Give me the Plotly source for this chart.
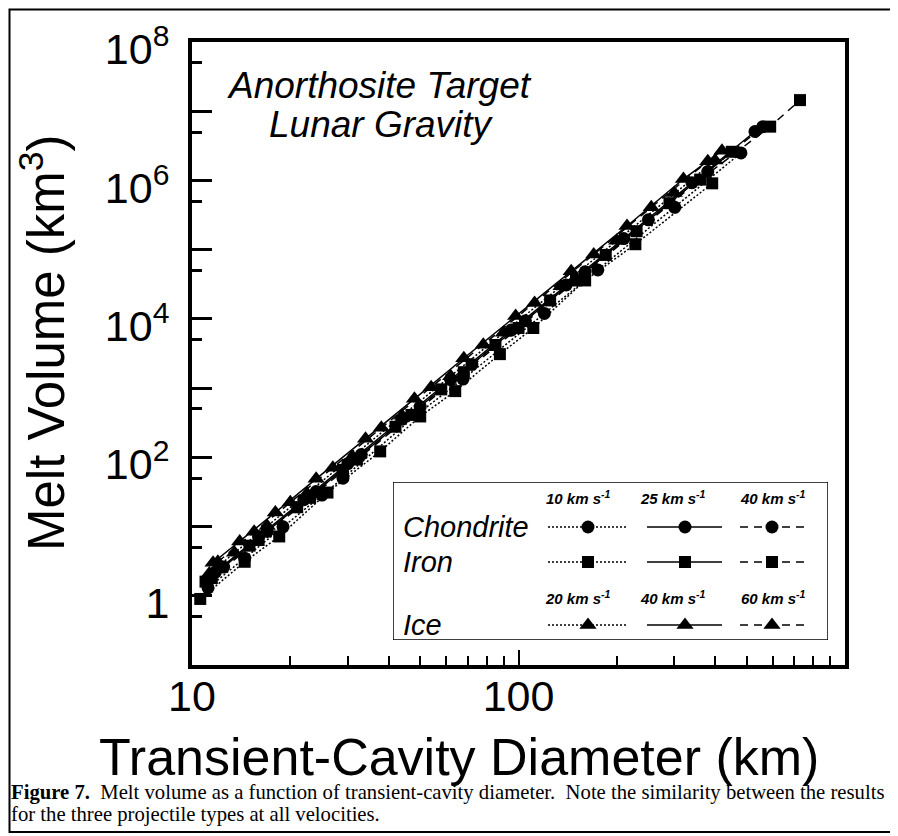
import plotly.graph_objects as go

# ---------------- data ----------------
# Chondrite projectiles (circles)
chon10_d = [11.2, 14.5, 19, 25, 29, 49, 67.6, 120, 175, 301, 480]
chon10_v = [1.3, 3.5, 9.9, 28.5, 50, 420, 1350, 1.2e4, 5.1e4, 4.1e5, 2.5e6]
chon25_d = [11.8, 16, 22, 30, 44, 62, 95, 140, 210, 340, 530]
chon25_v = [2.2, 7.2, 24.5, 81, 355, 1330, 6900, 3.1e4, 1.45e5, 9.3e5, 5.1e6]
chon40_d = [12.5, 17, 24, 33, 50, 72, 105, 160, 250, 380, 560]
chon40_v = [2.6, 8.5, 32, 110, 540, 2200, 9400, 4.8e4, 2.7e5, 1.35e6, 6.0e6]
# Iron projectiles (squares)
iron10_d = [10.6, 14.5, 18.5, 26, 37.7, 50, 64, 87.7, 111, 160, 228, 392]
iron10_v = [0.9, 3.1, 7.2, 31, 122, 390, 906, 3100, 7400, 3.6e4, 1.2e5, 9.1e5]
iron25_d = [11, 15, 21, 29, 42, 58, 85, 125, 185, 290, 450]
iron25_v = [1.6, 5.3, 19, 66, 277, 960, 4200, 1.85e4, 8.4e4, 4.7e5, 2.6e6]
iron40_d = [11.5, 16, 23, 32, 47, 68, 100, 150, 230, 360, 590, 728]
iron40_v = [1.8, 6.4, 26, 93, 410, 1700, 7400, 3.6e4, 1.85e5, 1.03e6, 6.0e6, 1.45e7]
# Ice projectiles (triangles)
ice20_d = [11.3, 13.5, 17, 22.5, 31, 44, 62, 90, 135, 200, 300, 400]
ice20_v = [2.1, 4.2, 10.2, 30, 103, 400, 1480, 6300, 2.97e4, 1.35e5, 6.6e5, 1.95e6]
ice40_d = [11.6, 14, 18, 24, 34, 48, 68, 98, 145, 215, 320, 420]
ice40_v = [3.0, 6.1, 16, 49, 185, 700, 2700, 1.1e4, 4.9e4, 2.2e5, 1.05e6, 2.7e6]
ice60_d = [12, 15.5, 20, 27, 38, 54, 78, 112, 170, 255, 380]
ice60_v = [3.1, 8.4, 22.5, 71, 267, 1030, 4250, 1.7e4, 8.5e4, 4.1e5, 1.9e6]

projectiles = ["Chondrite", "Iron", "Ice"]
vel_labels_ci = ["10 km s<sup>-1</sup>", "25 km s<sup>-1</sup>", "40 km s<sup>-1</sup>"]
vel_labels_ice = ["20 km s<sup>-1</sup>", "40 km s<sup>-1</sup>", "60 km s<sup>-1</sup>"]

x_tickvals = [10, 100, 1000]
x_ticktext = ["10", "100", "100" + "\u00a0" * 4]
y_tickvals = [1, 10, 100, 1e3, 1e4, 1e5, 1e6, 1e7, 1e8]
y_ticktext = ["1", "", "10<sup>2</sup>", "", "10<sup>4</sup>", "", "10<sup>6</sup>", "", "10<sup>8</sup>"]

# ---------------- styles ----------------
FONT = "Liberation Sans, Arial, sans-serif"
SERIF = "Liberation Serif, Times New Roman, serif"
DOT = "2px,2px"
DASH = "8px,6px"
symbols = {"Chondrite": "circle", "Iron": "square", "Ice": "triangle-up"}
msize = {"Chondrite": 13, "Iron": 12, "Ice": 15}
dashes = [DOT, "solid", DASH]

series = [
    ("Chondrite", 0, chon10_d, chon10_v), ("Chondrite", 1, chon25_d, chon25_v), ("Chondrite", 2, chon40_d, chon40_v),
    ("Iron", 0, iron10_d, iron10_v), ("Iron", 1, iron25_d, iron25_v), ("Iron", 2, iron40_d, iron40_v),
    ("Ice", 0, ice20_d, ice20_v), ("Ice", 1, ice40_d, ice40_v), ("Ice", 2, ice60_d, ice60_v),
]

fig = go.Figure()
for proj, k, d, v in series:
    fig.add_trace(go.Scatter(
        x=d, y=v, mode="lines+markers", showlegend=False,
        line=dict(color="black", width=1.5, dash=dashes[k]),
        marker=dict(symbol=symbols[proj], size=msize[proj], color="black"),
        xaxis="x", yaxis="y"))

# ---------------- geometry (reference pixel coords; page body adds an 8px margin) ----------------
OFF = 8
W, H = 898 - OFF, 836 - OFF
L, R, T, B = 192, 845, 42, 665          # plot frame in reference pixels
pw, ph = R - L, B - T
def px(xr):
    return (xr - L) / pw
def py(yr):
    return (B - yr) / ph

# ---------------- custom legend (drawn on an auxiliary pixel-unit axis) ----------------
row_y = {"Chondrite": 527, "Iron": 562, "Ice": 625}
seg = [(548, 628, 588), (647, 722, 685), (740, 810, 772)]
for proj in projectiles:
    for k, (x0, x1, xm) in enumerate(seg):
        fig.add_trace(go.Scatter(
            x=[x0, xm, x1], y=[row_y[proj]] * 3, mode="lines", showlegend=False,
            line=dict(color="black", width=1.5, dash=dashes[k]), xaxis="x2", yaxis="y2"))
        fig.add_trace(go.Scatter(
            x=[xm], y=[row_y[proj]], mode="markers", showlegend=False,
            marker=dict(symbol=symbols[proj], size=msize[proj], color="black"),
            xaxis="x2", yaxis="y2"))

annotations = []
for proj in projectiles:
    annotations.append(dict(x=401, y=row_y[proj], xref="x2", yref="y2", text="<i>%s</i>" % proj,
                            showarrow=False, xanchor="left", yanchor="middle",
                            font=dict(family=FONT, size=29, color="black")))
head_x = [578, 673, 773]
for k, t in enumerate(vel_labels_ci):
    annotations.append(dict(x=head_x[k], y=497, xref="x2", yref="y2", text="<b><i>%s</i></b>" % t,
                            showarrow=False, xanchor="center", yanchor="middle",
                            font=dict(family=FONT, size=15, color="black")))
for k, t in enumerate(vel_labels_ice):
    annotations.append(dict(x=head_x[k], y=597, xref="x2", yref="y2", text="<b><i>%s</i></b>" % t,
                            showarrow=False, xanchor="center", yanchor="middle",
                            font=dict(family=FONT, size=15, color="black")))

annotations += [
    dict(x=px(379), y=py(85), xref="paper", yref="paper",
         text="<i>Anorthosite Target</i>", showarrow=False,
         xanchor="center", yanchor="middle", font=dict(family=FONT, size=37, color="black")),
    dict(x=px(381), y=py(124), xref="paper", yref="paper",
         text="<i>Lunar Gravity</i>", showarrow=False,
         xanchor="center", yanchor="middle", font=dict(family=FONT, size=37, color="black")),
    dict(x=px(459), y=py(757), xref="paper", yref="paper",
         text="Transient-Cavity Diameter (km)", showarrow=False,
         xanchor="center", yanchor="middle", font=dict(family=FONT, size=52, color="black")),
    dict(x=px(43), y=py(343), xref="paper", yref="paper", textangle=-90,
         text="Melt Volume (km<sup>3</sup>)", showarrow=False,
         xanchor="center", yanchor="middle", font=dict(family=FONT, size=51, color="black")),
    dict(x=px(9), y=py(792), xref="paper", yref="paper",
         text="<b>Figure 7.</b>\u00a0 Melt volume as a function of transient-cavity diameter.\u00a0 Note the similarity between the results",
         showarrow=False, xanchor="left", yanchor="middle", font=dict(family=SERIF, size=20.7, color="black")),
    dict(x=px(9), y=py(814), xref="paper", yref="paper",
         text="for the three projectile types at all velocities.",
         showarrow=False, xanchor="left", yanchor="middle", font=dict(family=SERIF, size=20.7, color="black")),
]

shapes = [
    dict(type="rect", xref="paper", yref="paper", x0=px(9.5), x1=px(893), y0=py(9.5), y1=py(832),
         line=dict(color="black", width=2), fillcolor="rgba(0,0,0,0)"),
    dict(type="rect", xref="x2", yref="y2", x0=393, x1=828, y0=482, y1=640,
         line=dict(color="black", width=1.5), fillcolor="rgba(0,0,0,0)"),
]

minor_x = [20, 30, 40, 50, 60, 70, 80, 90, 200, 300, 400, 500, 600, 700, 800, 900]
minor_y = [0.5, 5, 50, 500, 5e3, 5e4, 5e5, 5e6, 5e7]

fig.update_layout(
    width=W, height=H, autosize=False,
    margin=dict(l=L - OFF, r=898 - R, t=T - OFF, b=836 - B, pad=0),
    paper_bgcolor="white", plot_bgcolor="white",
    showlegend=False,
    font=dict(family=FONT, color="black"),
    xaxis=dict(type="log", range=[1, 3], domain=[0, 1], anchor="y",
               tickmode="array", tickvals=x_tickvals, ticktext=x_ticktext,
               ticks="inside", ticklen=15, tickwidth=2, tickcolor="black",
               tickfont=dict(family=FONT, size=43, color="black"),
               ticklabelstandoff=-10,
               showline=True, linewidth=4, linecolor="black", mirror=True,
               showgrid=False, zeroline=False,
               minor=dict(tickmode="array", tickvals=minor_x, ticks="inside", ticklen=9,
                          tickwidth=2, tickcolor="black", showgrid=False)),
    yaxis=dict(type="log", range=[-1, 8.001], domain=[0, 1], anchor="x",
               tickmode="array", tickvals=y_tickvals, ticktext=y_ticktext,
               ticks="inside", ticklen=20, tickwidth=2.5, tickcolor="black",
               tickfont=dict(family=FONT, size=43, color="black"),
               ticklabelstandoff=10, ticklabelshift=7,
               showline=True, linewidth=4, linecolor="black", mirror=True,
               showgrid=False, zeroline=False,
               minor=dict(tickmode="array", tickvals=minor_y, ticks="inside", ticklen=10,
                          tickwidth=2.5, tickcolor="black", showgrid=False)),
    xaxis2=dict(domain=[px(393), px(828)], range=[393, 828], anchor="y2", visible=False,
                showgrid=False, zeroline=False),
    yaxis2=dict(domain=[py(640), py(482)], range=[640, 482], anchor="x2", visible=False,
                showgrid=False, zeroline=False),
    annotations=annotations,
    shapes=shapes,
)

fig.write_html("out.html")
